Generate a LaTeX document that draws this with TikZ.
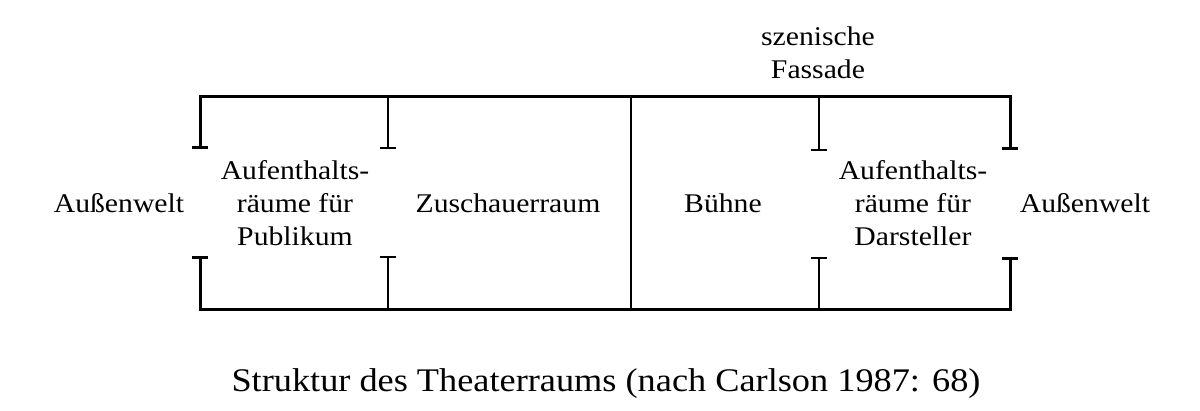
\documentclass[tikz,border=0pt]{standalone}
\usepackage{fontspec}
\setmainfont{Liberation Serif}
\newfontfamily\roomfont[FakeStretch=1.1]{Liberation Serif}
\newfontfamily\captionfont[FakeStretch=1.1]{Liberation Serif}
\usetikzlibrary{arrows.meta}

\begin{document}
\begin{tikzpicture}[x=1pt, y=-1pt]
    \useasboundingbox (0,0) rectangle (1200,410);
    \tikzset{
        room/.style={font=\roomfont\fontsize{27}{33}\selectfont, align=center, inner sep=0pt},
        frame/.style={black, line width=3pt, line join=miter},
        wall/.style={black, line width=2.1pt},
        tee/.style={-{Bar[width=16pt]}},
        teeup/.style={{Bar[width=16pt]}-}
    }

    % corners of the frame and ends of the walls
    \coordinate (tl) at (200,96);
    \coordinate (tr) at (1010,96);
    \coordinate (bl) at (200,309);
    \coordinate (br) at (1010,309);
    \coordinate (la) at (200,149);
    \coordinate (lb) at (200,256);
    \coordinate (ra) at (1010,150);
    \coordinate (rb) at (1010,257);
    \coordinate (pt) at (388,96);
    \coordinate (pa) at (388,149);
    \coordinate (pb) at (388,256);
    \coordinate (pc) at (388,309);
    \coordinate (mt) at (631,96);
    \coordinate (mb) at (631,309);
    \coordinate (st) at (819,96);
    \coordinate (sa) at (819,151);
    \coordinate (sb) at (819,257);
    \coordinate (sc) at (819,309);

    \draw[frame, {Bar[width=16pt]}-{Bar[width=16pt]}] (la) -- (tl) -- (tr) -- (ra);
    \draw[frame, {Bar[width=16pt]}-{Bar[width=16pt]}] (lb) -- (bl) -- (br) -- (rb);
    \draw[wall, tee] (pt) -- (pa);
    \draw[wall, teeup] (pb) -- (pc);
    \draw[wall] (mt) -- (mb);
    \draw[wall, tee] (st) -- (sa);
    \draw[wall, teeup] (sb) -- (sc);

    \node[room] (outL) at (119,203) {Außenwelt};
    \node[room] (publikum) at (295,203) {Aufenthalts-\\räume für\\Publikum};
    \node[room] (zuschauer) at (508,203) {Zuschauerraum};
    \node[room] (buehne) at (723,203) {Bühne};
    \node[room] (darsteller) at (913,203) {Aufenthalts-\\räume für\\Darsteller};
    \node[room] (outR) at (1085,203) {Außenwelt};
    \node[room] (fassade) at (818,53) {szenische\\Fassade};

    \node[font=\captionfont\fontsize{33}{40}\selectfont, inner sep=0pt] (caption) at (606,384)
        {Struktur des Theaterraums (nach Carlson 1987: 68)};

\end{tikzpicture}
\end{document}
